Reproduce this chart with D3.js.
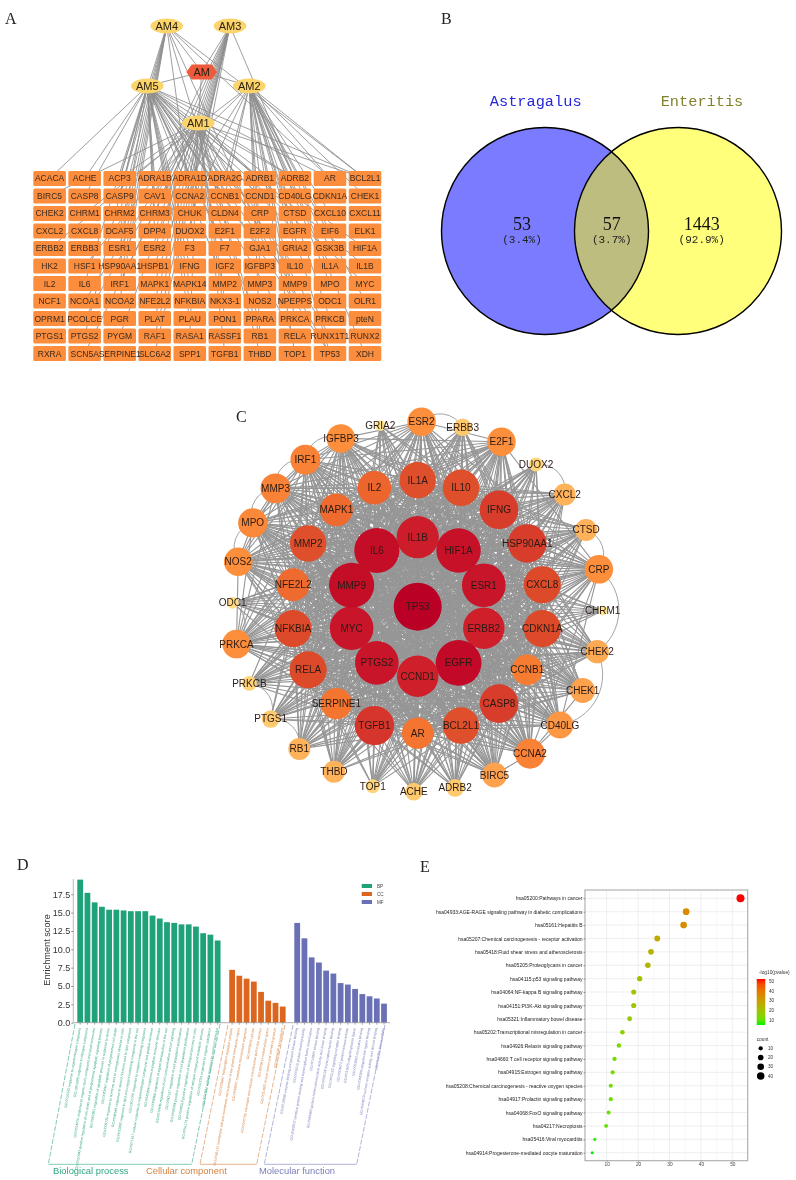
<!DOCTYPE html>
<html>
<head>
<meta charset="utf-8">
<script src="https://cdn.jsdelivr.net/npm/d3@7"></script>
<style>
  html, body { margin: 0; padding: 0; background: #fff; }
  svg { display: block; filter: blur(0.55px); }
  text { font-family: "Liberation Sans", Arial, sans-serif; }
</style>
</head>
<body>
<svg id="figure" width="796" height="1180"></svg>
<script>
// ---- Panel A data
const herbs = ['AM4', 'AM3', 'AM5', 'AM2', 'AM1']
const genes = [
  'ACACA','ACHE','ACP3','ADRA1B','ADRA1D','ADRA2C','ADRB1','ADRB2','AR','BCL2L1',
  'BIRC5','CASP8','CASP9','CAV1','CCNA2','CCNB1','CCND1','CD40LG','CDKN1A','CHEK1',
  'CHEK2','CHRM1','CHRM2','CHRM3','CHUK','CLDN4','CRP','CTSD','CXCL10','CXCL11',
  'CXCL2','CXCL8','DCAF5','DPP4','DUOX2','E2F1','E2F2','EGFR','EIF6','ELK1',
  'ERBB2','ERBB3','ESR1','ESR2','F3','F7','GJA1','GRIA2','GSK3B','HIF1A',
  'HK2','HSF1','HSP90AA1','HSPB1','IFNG','IGF2','IGFBP3','IL10','IL1A','IL1B',
  'IL2','IL6','IRF1','MAPK1','MAPK14','MMP2','MMP3','MMP9','MPO','MYC',
  'NCF1','NCOA1','NCOA2','NFE2L2','NFKBIA','NKX3-1','NOS2','NPEPPS','ODC1','OLR1',
  'OPRM1','PCOLCE','PGR','PLAT','PLAU','PON1','PPARA','PRKCA','PRKCB','pteN',
  'PTGS1','PTGS2','PYGM','RAF1','RASA1','RASSF1','RB1','RELA','RUNX1T1','RUNX2',
  'RXRA','SCN5A','SERPINE1','SLC6A2','SPP1','TGFB1','THBD','TOP1','TP53','XDH'
]
const am4_targets = ['ACP3','CASP9','CHRM2','DCAF5','ESR1','HSP90AA1','IRF1','NCOA2','CCNA2','E2F2','RB1','BCL2L1','AR']
const am3_targets = ['ADRA1B','CAV1','CHRM3','DPP4','ESR2','HSPB1','MAPK1','NFE2L2','PLAT','RAF1','SLC6A2','CCNA2','DUOX2','ADRB2']
const am5_targets = [
  'ACACA','ACHE','ACP3','ADRA1B','ADRA1D','ADRA2C','ADRB1','ADRB2','AR','BCL2L1',
  'CASP8','CASP9','CAV1','CCNB1','CCND1','CHRM3','CRP','DPP4',
  'E2F1','EGFR','ESR1','F3','F7','GJA1','HIF1A','IFNG',
  'IL10','IL1B','IL6','MAPK14','MMP2','MMP9','MYC',
  'NFKBIA','PLAU','PPARA','PTGS2','RELA','TP53'
]
const am2_targets = [
  'ADRA1B','ADRA1D','ADRA2C','ADRB1','ADRB2','AR','BCL2L1','CCNB1','CD40LG',
  'CHEK1','CHRM1','CHUK','CXCL10','E2F2','EGFR','EIF6',
  'GRIA2','GSK3B','IL1A','IGFBP3','MPO','NPEPPS','OLR1','PRKCA',
  'PRKCB','RB1','TOP1','TP53','XDH'
]
const am1_targets = [
  'ACP3','ADRA1D','ADRA2C','ADRB1','ADRB2','BCL2L1','BIRC5','CCNB1','CLDN4','CTSD',
  'DUOX2','ERBB2','HSF1','IRF1','NCOA1','NKX3-1','PCOLCE','PON1','PYGM','RASA1',
  'RUNX1T1','SCN5A','TGFB1','THBD','TP53'
]

// ---- Panel B data
const venn_names = ['Astragalus', 'Enteritis']
const venn_counts = ['53', '57', '1443']
const venn_shares = ['(3.4%)', '(3.7%)', '(92.9%)']

// ---- Panel C data (clockwise from the top of every ring)
const ring_0_names = ['TP53']
const ring_0_degree = [56]
const ring_1_names = ['IL1B','HIF1A','ESR1','ERBB2','EGFR','CCND1','PTGS2','MYC','MMP9','IL6']
const ring_1_degree = [48,51,50,47,53,47,50,50,52,52]
const ring_2_names = ['IL1A','IL10','IFNG','HSP90AA1','CXCL8','CDKN1A','CCNB1','CASP8','BCL2L1','AR','TGFB1','SERPINE1','RELA','NFKBIA','NFE2L2','MMP2','MAPK1','IL2']
const ring_2_degree = [40,40,43,43,41,41,32,43,40,33,44,33,41,41,35,40,35,36]
const ring_3_names = ['ESR2','ERBB3','E2F1','DUOX2','CXCL2','CTSD','CRP','CHRM1','CHEK2','CHEK1','CD40LG','CCNA2','BIRC5','ADRB2','ACHE','TOP1','THBD','RB1','PTGS1','PRKCB','PRKCA','ODC1','NOS2','MPO','MMP3','IRF1','IGFBP3','GRIA2']
const ring_3_degree = [29,14,29,9,20,20,29,3,22,24,27,31,24,14,14,9,20,20,14,10,29,6,29,30,31,31,29,4]
const outer_arcs = [['ESR2','ERBB3'],['DUOX2','CXCL2'],['CTSD','CRP'],['CRP','CHEK2'],['PRKCB','PTGS1'],['PTGS1','RB1'],['NOS2','MPO'],['MPO','MMP3'],['MMP3','IRF1'],['IRF1','IGFBP3'],['ODC1','PRKCA'],['CHEK2','CD40LG']]

// ---- Panel D data
const bp_terms = [
  'GO:0010243 response to organonitrogen compound',
  'GO:1901698 response to nitrogen compound',
  'GO:0014070 response to organic cyclic compound and small molecules',
  'GO:0010942 positive regulation of cell death and of programmed apoptotic signaling process',
  'GO:0042981 regulation of apoptotic process in response to stress',
  'GO:0043067 regulation of programmed cell death',
  'GO:0009725 response to hormone and to endogenous stimulus in cells',
  'GO:0048545 response to steroid hormone and to lipid compound',
  'GO:0033993 response to lipid and oxygen-containing compound in the cell',
  'GO:1901700 response to oxygen-containing compound',
  'GO:0071417 cellular response to organonitrogen compound and peptide hormone',
  'GO:0043434 response to peptide hormone stimulus',
  'GO:0009966 regulation of signal transduction in the cell',
  'GO:0010646 regulation of cell communication and of signaling',
  'GO:0042127 regulation of cell population proliferation',
  'GO:0008284 positive regulation of cell population proliferation',
  'GO:0048518 positive regulation of biological process in cells',
  'GO:0051173 positive regulation of nitrogen compound metabolic process',
  'GO:0010033 response to organic substance',
  'GO:0070887 cellular response to chemical stimulus'
]
const bp_scores = [19.5,17.7,16.4,15.8,15.4,15.4,15.3,15.2,15.2,15.2,14.6,14.2,13.7,13.6,13.4,13.4,13.1,12.2,12.0,11.2]
const cc_terms = [
  'GO:0005667 transcription regulator complex',
  'GO:0045121 membrane raft and membrane microdomain of the plasma membrane region',
  'GO:0098857 membrane microdomain organelle',
  'GO:0005829 cytosol',
  'GO:0000785 chromatin and nuclear chromosome part in the nucleus',
  'GO:0005615 extracellular space',
  'GO:0031982 vesicle lumen and secretory granule',
  'GO:0005654 nucleoplasm'
]
const cc_scores = [7.2,6.4,6.0,5.6,4.2,3.0,2.7,2.2]
const mf_terms = [
  'GO:0019899 enzyme binding and protein kinase binding',
  'GO:0005515 protein binding activity',
  'GO:0042802 identical protein binding and transcription factor dimerization',
  'GO:0019900 kinase binding',
  'GO:0046982 protein heterodimerization activity and dimer binding',
  'GO:0008134 transcription factor binding',
  'GO:0005102 signaling receptor binding',
  'GO:0004672 protein kinase activity',
  'GO:0031625 ubiquitin protein ligase',
  'GO:0003682 chromatin binding',
  'GO:0044389 ubiquitin-like ligase binding',
  'GO:0004879 nuclear receptor activity and steroid binding',
  'GO:0016301 kinase activity'
]
const mf_scores = [13.6,11.5,8.9,8.2,7.1,6.7,5.4,5.2,4.6,3.9,3.6,3.3,2.6]
const score_ticks = [0, 2.5, 5, 7.5, 10, 12.5, 15, 17.5]

// ---- Panel E data
const pathways = [
  'hsa05200:Pathways in cancer',
  'hsa04933:AGE-RAGE signaling pathway in diabetic complications',
  'hsa05161:Hepatitis B',
  'hsa05207:Chemical carcinogenesis - receptor activation',
  'hsa05418:Fluid shear stress and atherosclerosis',
  'hsa05205:Proteoglycans in cancer',
  'hsa04115:p53 signaling pathway',
  'hsa04064:NF-kappa B signaling pathway',
  'hsa04151:PI3K-Akt signaling pathway',
  'hsa05321:Inflammatory bowel disease',
  'hsa05202:Transcriptional misregulation in cancer',
  'hsa04926:Relaxin signaling pathway',
  'hsa04660:T cell receptor signaling pathway',
  'hsa04915:Estrogen signaling pathway',
  'hsa05208:Chemical carcinogenesis - reactive oxygen species',
  'hsa04917:Prolactin signaling pathway',
  'hsa04068:FoxO signaling pathway',
  'hsa04217:Necroptosis',
  'hsa05416:Viral myocarditis',
  'hsa04914:Progesterone-mediated oocyte maturation'
]
const pathway_counts = [52.6,35.3,34.5,26.1,24.1,23.1,20.5,18.6,18.6,17.3,15,13.9,12.5,11.9,11.3,11.3,10.6,9.8,6.2,5.4]
const pathway_logp = [50,34,33,26,24,23,20,18,18,17,15,13,12,12,11,11,10,10,6,5]
const count_ticks = [10, 20, 30, 40, 50]
const logp_ticks = [50, 40, 30, 20, 10]
const size_ticks = [10, 20, 30, 40]

const svg = d3.select('#figure')
const serif = '"Liberation Serif", "Times New Roman", serif'
const mono = '"Liberation Mono", monospace'

function panel_letter(letter, x, y) {
  svg.append('text').attr('x', x).attr('y', y).text(letter)
    .style('font-family', serif).style('font-size', '16px').attr('fill', '#222')
}
panel_letter('A', 5, 24)
panel_letter('B', 441, 24)
panel_letter('C', 236, 422)
panel_letter('D', 17, 870)
panel_letter('E', 420, 872)

// ---- Panel A: herb / target network
function draw_panel_a() {
  const g = svg.append('g')
  const x_cell = d3.scaleBand().domain(d3.range(10)).range([33.3, 381.3]).paddingInner(0.07)
  const y_cell = d3.scaleBand().domain(d3.range(11)).range([171, 361]).paddingInner(0.145)
  const cell_x = i => x_cell(i % 10)
  const cell_y = i => y_cell(Math.floor(i / 10))

  const hub = { AM: [201.7, 72], AM4: [166.7, 26], AM3: [230, 26], AM5: [147.3, 86], AM2: [249.3, 86], AM1: [198.3, 123] }
  const targets = { AM4: am4_targets, AM3: am3_targets, AM5: am5_targets, AM2: am2_targets, AM1: am1_targets }

  const edges = []
  herbs.forEach(h => {
    edges.push({ from: hub.AM, to: hub[h] })
    targets[h].forEach(t => {
      let i = genes.indexOf(t)
      edges.push({ from: hub[h], to: [cell_x(i) + x_cell.bandwidth() / 2, cell_y(i) + y_cell.bandwidth() / 2] })
    })
  })
  g.selectAll('line.edge').data(edges).join('line')
    .attr('x1', d => d.from[0]).attr('y1', d => d.from[1])
    .attr('x2', d => d.to[0]).attr('y2', d => d.to[1])
    .attr('stroke', '#8e8e8e').attr('stroke-width', 0.85)

  g.selectAll('rect.cell').data(genes).join('rect')
    .attr('x', (d, i) => cell_x(i)).attr('y', (d, i) => cell_y(i))
    .attr('width', x_cell.bandwidth()).attr('height', y_cell.bandwidth())
    .attr('rx', 1.5).attr('fill', '#fb8d3d')
  g.selectAll('text.cell').data(genes).join('text')
    .attr('x', (d, i) => cell_x(i) + x_cell.bandwidth() / 2)
    .attr('y', (d, i) => cell_y(i) + y_cell.bandwidth() / 2 + 3)
    .attr('text-anchor', 'middle').attr('fill', '#3a2a20')
    .style('font-size', '8.5px').text(d => d)

  g.selectAll('ellipse').data(herbs).join('ellipse')
    .attr('cx', d => hub[d][0]).attr('cy', d => hub[d][1])
    .attr('rx', 16.3).attr('ry', 7.4).attr('fill', '#fbd46c')
  // the AM node is a flat hexagon
  const hex = [[-15.3, 0], [-10, -7.5], [10, -7.5], [15.3, 0], [10, 7.5], [-10, 7.5]]
  g.append('path')
    .attr('d', d3.line()(hex) + 'Z')
    .attr('transform', `translate(${hub.AM[0]},${hub.AM[1]})`)
    .attr('fill', '#ef5a3c')
  g.selectAll('text.hub').data(herbs.concat('AM')).join('text')
    .attr('x', d => hub[d][0]).attr('y', d => hub[d][1] + 3.8)
    .attr('text-anchor', 'middle').attr('fill', '#2a2010')
    .style('font-size', '11px').text(d => d)
}

// ---- Panel B: Venn diagram
function draw_panel_b() {
  const g = svg.append('g')
  const cy = 231, r = 103.5
  const cx = [545, 678]
  const defs = svg.append('defs')
  defs.append('clipPath').attr('id', 'venn-left-clip')
    .append('circle').attr('cx', cx[0]).attr('cy', cy).attr('r', r)

  g.append('circle').attr('cx', cx[0]).attr('cy', cy).attr('r', r).attr('fill', '#7b7bff')
  g.append('circle').attr('cx', cx[1]).attr('cy', cy).attr('r', r).attr('fill', '#ffff7b')
  g.append('circle').attr('cx', cx[1]).attr('cy', cy).attr('r', r).attr('fill', '#bdbd80')
    .attr('clip-path', 'url(#venn-left-clip)')
  g.selectAll('circle.ring').data(cx).join('circle')
    .attr('cx', d => d).attr('cy', cy).attr('r', r)
    .attr('fill', 'none').attr('stroke', '#000').attr('stroke-width', 1.4)

  g.selectAll('text.name').data(venn_names).join('text')
    .attr('x', (d, i) => [535.7, 702][i]).attr('y', 105.5)
    .attr('text-anchor', 'middle').attr('fill', (d, i) => ['#2626dc', '#82822e'][i])
    .style('font-family', mono).style('font-size', '15.3px').text(d => d)
  const text_x = [522, 611.7, 701.7]
  g.selectAll('text.count').data(venn_counts).join('text')
    .attr('x', (d, i) => text_x[i]).attr('y', 230)
    .attr('text-anchor', 'middle').attr('fill', '#111')
    .style('font-family', serif).style('font-size', '18px').text(d => d)
  g.selectAll('text.share').data(venn_shares).join('text')
    .attr('x', (d, i) => text_x[i]).attr('y', 242.5)
    .attr('text-anchor', 'middle').attr('fill', '#222')
    .style('font-family', mono).style('font-size', '11px').text(d => d)
}

// ---- Panel C: concentric PPI network
function draw_panel_c() {
  const g = svg.append('g')
  const cx = 417.7, cy = 606.7
  const rings = [
    { names: ring_0_names, degree: ring_0_degree, radius: 0, start: 0 },
    { names: ring_1_names, degree: ring_1_degree, radius: 69.5, start: 0 },
    { names: ring_2_names, degree: ring_2_degree, radius: 126.5, start: 0 },
    { names: ring_3_names, degree: ring_3_degree, radius: 185, start: 1.2 }
  ]
  const nodes = []
  rings.forEach(ring => {
    let angle = d3.scaleLinear().domain([0, ring.names.length]).range([ring.start, ring.start + 360])
    ring.names.forEach((name, i) => {
      let a = angle(i) * Math.PI / 180
      nodes.push({ name, degree: ring.degree[i], x: cx + ring.radius * Math.sin(a), y: cy - ring.radius * Math.cos(a) })
    })
  })
  const by_name = new Map(nodes.map(n => [n.name, n]))
  const radius = d3.scaleLinear().domain([2, 56]).range([4.5, 24])
  const color = d3.scaleLinear()
    .domain([2, 14, 29, 33, 41, 47, 56])
    .range(['#ffe992', '#ffc96e', '#fd8f3c', '#f4752f', '#dc4a2a', '#cf1f2b', '#bb0026'])

  // links: a node reaches the best-connected nodes, scaled from its degree
  const ranked = nodes.slice().sort((a, b) => d3.descending(a.degree, b.degree))
  ranked.forEach((n, i) => { n.rank = i })
  const links = []
  nodes.forEach((a, i) => {
    nodes.slice(i + 1).forEach(b => {
      if (b.rank < a.degree * 1.3 || a.rank < b.degree * 1.3) links.push([a, b])
    })
  })
  g.selectAll('line').data(links).join('line')
    .attr('x1', d => d[0].x).attr('y1', d => d[0].y)
    .attr('x2', d => d[1].x).attr('y2', d => d[1].y)
    .attr('stroke', '#969696').attr('stroke-width', 1.1)

  // neighbours on the outer ring are joined by arcs
  g.selectAll('path.arc').data(outer_arcs).join('path')
    .attr('d', d => {
      let a = by_name.get(d[0]), b = by_name.get(d[1])
      let dist = Math.hypot(a.x - b.x, a.y - b.y)
      return `M${a.x},${a.y}A${dist * 0.62},${dist * 0.62} 0 0 1 ${b.x},${b.y}`
    })
    .attr('fill', 'none').attr('stroke', '#9a9a9a').attr('stroke-width', 0.9)

  g.selectAll('circle').data(nodes).join('circle')
    .attr('cx', d => d.x).attr('cy', d => d.y).attr('r', d => radius(d.degree))
    .attr('fill', d => color(d.degree))
  g.selectAll('text').data(nodes).join('text')
    .attr('x', d => d.x).attr('y', d => d.y + 3.5)
    .attr('text-anchor', 'middle').attr('fill', '#2b1a14')
    .style('font-size', '10px').text(d => d.name)
}

// ---- Panel D: GO enrichment bars
function draw_panel_d() {
  const g = svg.append('g')
  const groups = [
    { key: 'BP', terms: bp_terms, scores: bp_scores, color: '#1fa27a', text: '#32a684', title: 'Biological process', title_x: 53,
      box: [[75, 1024], [220, 1024], [191.7, 1164.3], [48.3, 1164.3]] },
    { key: 'CC', terms: cc_terms, scores: cc_scores, color: '#dd661f', text: '#d6813f', title: 'Cellular component', title_x: 146,
      box: [[228, 1025], [285, 1025], [256.7, 1164.3], [200, 1164.3]] },
    { key: 'MF', terms: mf_terms, scores: mf_scores, color: '#6a70b6', text: '#7a80bc', title: 'Molecular function', title_x: 259,
      box: [[293, 1025], [385, 1025], [356.7, 1164.3], [264.3, 1164.3]] }
  ]
  const slots = [...bp_terms, 'gap-1', ...cc_terms, 'gap-2', ...mf_terms]
  const x = d3.scaleBand().domain(slots).range([77.3, 386.9]).paddingInner(0.2)
  const y = d3.scaleLinear().domain([0, 17.5]).range([1022.7, 894.3])

  groups.forEach(grp => {
    let rows = grp.terms.map((t, i) => ({ term: t, score: grp.scores[i] }))
    g.selectAll(`rect.${grp.key}`).data(rows).join('rect')
      .attr('class', grp.key)
      .attr('x', d => x(d.term)).attr('y', d => y(d.score))
      .attr('width', x.bandwidth()).attr('height', d => y(0) - y(d.score))
      .attr('fill', grp.color)
    // rotated term labels under the bars
    g.selectAll(`text.${grp.key}`).data(rows).join('text')
      .attr('class', grp.key)
      .attr('transform', d => `translate(${x(d.term) + x.bandwidth() / 2 - 0.5},1028) rotate(-80)`)
      .attr('text-anchor', 'end').attr('dy', '0.3em')
      .attr('fill', grp.text).style('font-size', '3.5px').text(d => d.term)
    // dashed bracket round the labels
    let b = grp.box
    g.append('path').attr('d', d3.line()([b[1], b[2]]) + d3.line()([b[0], b[3]]))
      .attr('fill', 'none').attr('stroke', grp.text).attr('stroke-width', 0.6).attr('stroke-dasharray', '5 1.5')
    g.append('path').attr('d', d3.line()([b[3], b[2]]))
      .attr('fill', 'none').attr('stroke', grp.text).attr('stroke-width', 0.6)
    g.append('text').attr('x', grp.title_x).attr('y', 1174)
      .attr('fill', grp.text).style('font-size', '9.4px').text(grp.title)
  })

  // axes
  let y_axis = g.append('g').attr('transform', 'translate(73.3,0)')
    .call(d3.axisLeft(y).tickValues(score_ticks).tickFormat(d3.format('.1f')).tickSize(2))
  y_axis.select('.domain').attr('d', `M0,${y(0)}V${y(19.6)}`).attr('stroke', '#aaa').attr('stroke-width', 0.8)
  y_axis.selectAll('line').attr('stroke', '#888')
  y_axis.selectAll('text').attr('fill', '#333').style('font-size', '9px').attr('x', -3)

  let x_axis = g.append('g').attr('transform', `translate(0,${y(0)})`)
    .call(d3.axisBottom(x).tickValues(slots.filter(s => !s.startsWith('gap'))).tickFormat('').tickSize(2))
  x_axis.select('.domain').attr('d', 'M73.3,0H390').attr('stroke', '#999').attr('stroke-width', 0.8)
  x_axis.selectAll('line').attr('stroke', '#555').attr('stroke-width', 0.5)

  g.append('text').attr('transform', 'translate(49.5,950) rotate(-90)')
    .attr('text-anchor', 'middle').attr('fill', '#333').style('font-size', '9.2px').text('Enrichment score')

  // legend
  const legend_y = d3.scalePoint().domain(groups.map(d => d.key)).range([886, 902])
  g.selectAll('rect.legend').data(groups).join('rect')
    .attr('x', 361.7).attr('y', d => legend_y(d.key) - 2).attr('width', 10.3).attr('height', 4)
    .attr('fill', d => d.color)
  g.selectAll('text.legend').data(groups).join('text')
    .attr('x', 377).attr('y', d => legend_y(d.key) + 1.6)
    .attr('fill', '#444').style('font-size', '4.6px').text(d => d.key)
}

// ---- Panel E: KEGG bubble plot
function draw_panel_e() {
  const g = svg.append('g')
  const left = 585, right = 747.7, top = 890, bottom = 1160.7
  const x = d3.scaleLinear().domain([10, 50]).range([606.7, 732.3])
  const y = d3.scalePoint().domain(pathways).range([898.3, 1152.7])
  const size = d3.scaleSqrt().domain([5, 52.6]).range([1.5, 4])
  const color = d3.scaleSequential(d3.interpolateLab('#00f000', '#ff0000')).domain([5, 50])

  // grid
  const minor = [5, 15, 25, 35, 45]
  g.selectAll('line.minor').data(minor).join('line')
    .attr('x1', d => x(d)).attr('x2', d => x(d)).attr('y1', top).attr('y2', bottom)
    .attr('stroke', '#f2f2f2').attr('stroke-width', 0.5)
  g.selectAll('line.major').data(count_ticks).join('line')
    .attr('x1', d => x(d)).attr('x2', d => x(d)).attr('y1', top).attr('y2', bottom)
    .attr('stroke', '#e8e8e8').attr('stroke-width', 0.7)
  g.selectAll('line.row').data(pathways).join('line')
    .attr('x1', left).attr('x2', right).attr('y1', d => y(d)).attr('y2', d => y(d))
    .attr('stroke', '#e8e8e8').attr('stroke-width', 0.7)

  // points
  g.selectAll('circle.point').data(pathways).join('circle')
    .attr('cx', (d, i) => x(pathway_counts[i])).attr('cy', d => y(d))
    .attr('r', (d, i) => size(pathway_counts[i]))
    .attr('fill', (d, i) => color(pathway_logp[i]))

  g.append('rect').attr('x', left).attr('y', top).attr('width', right - left).attr('height', bottom - top)
    .attr('fill', 'none').attr('stroke', '#aaa').attr('stroke-width', 1.1)

  // axes
  let x_axis = g.append('g').attr('transform', `translate(0,${bottom})`)
    .call(d3.axisBottom(x).tickValues(count_ticks).tickSize(1.5))
  x_axis.select('.domain').remove()
  x_axis.selectAll('line').attr('stroke', '#666').attr('stroke-width', 0.5)
  x_axis.selectAll('text').attr('fill', '#444').style('font-size', '4.8px').attr('y', 2)
  let y_axis = g.append('g').attr('transform', `translate(${left},0)`)
    .call(d3.axisLeft(y).tickSize(1.5))
  y_axis.select('.domain').remove()
  y_axis.selectAll('line').attr('stroke', '#333').attr('stroke-width', 0.5)
  y_axis.selectAll('text').attr('fill', '#222').style('font-size', '5px').attr('x', -2.5)

  // colour legend
  const defs = svg.append('defs')
  const grad = defs.append('linearGradient').attr('id', 'logp-gradient')
    .attr('x1', 0).attr('x2', 0).attr('y1', 1).attr('y2', 0)
  d3.range(0, 1.01, 0.1).forEach(t => {
    grad.append('stop').attr('offset', t).attr('stop-color', color(5 + t * 45))
  })
  const y_logp = d3.scaleLinear().domain([50, 10]).range([981.7, 1020])
  g.append('rect').attr('x', 756.7).attr('y', 979).attr('width', 8.6).attr('height', 46)
    .attr('fill', 'url(#logp-gradient)')
  g.append('text').attr('x', 759).attr('y', 974).attr('fill', '#333').style('font-size', '4.8px').text('-log10(pvalue)')
  g.selectAll('text.logp').data(logp_ticks).join('text')
    .attr('x', 769).attr('y', d => y_logp(d) + 1.6)
    .attr('fill', '#333').style('font-size', '4.6px').text(d => d)

  // size legend
  const y_size = d3.scalePoint().domain(size_ticks).range([1048.3, 1076])
  g.append('text').attr('x', 756.7).attr('y', 1041).attr('fill', '#333').style('font-size', '4.8px').text('count')
  g.selectAll('circle.size').data(size_ticks).join('circle')
    .attr('cx', 760.7).attr('cy', d => y_size(d)).attr('r', d => size(d) + 0.2).attr('fill', '#000')
  g.selectAll('text.size').data(size_ticks).join('text')
    .attr('x', 768).attr('y', d => y_size(d) + 1.6)
    .attr('fill', '#333').style('font-size', '4.6px').text(d => d)
}

draw_panel_a()
draw_panel_b()
draw_panel_c()
draw_panel_d()
draw_panel_e()
</script>
</body>
</html>
